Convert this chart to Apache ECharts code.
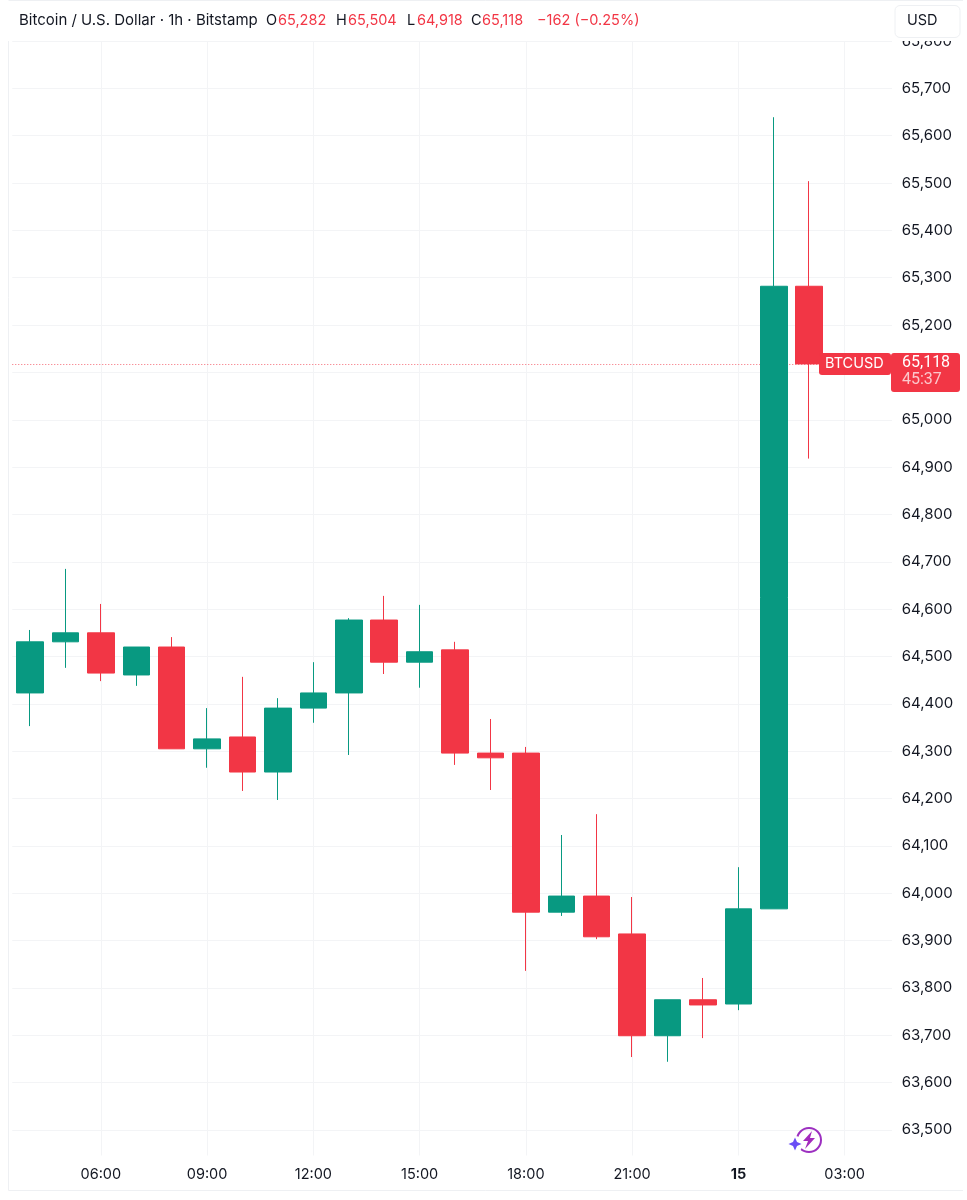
<!DOCTYPE html>
<html><head><meta charset="utf-8">
<style>html,body{margin:0;padding:0;background:#fff}#c{width:967px;height:1200px}</style>
<script src="https://cdn.jsdelivr.net/npm/echarts@6/dist/echarts.min.js"></script>
</head><body><div id="c"></div>
<script>
const categories=['04:00','05:00','06:00','07:00','08:00','09:00','10:00','11:00','12:00','13:00','14:00','15:00','16:00','17:00','18:00','19:00','20:00','21:00','22:00','23:00','15','01:00','02:00','03:00','04:00'];
const opens =[64423,64531,64550,64461,64520,64305,64330,64256,64391,64423,64577,64488,64514,64296,64296,63960,63994,63914,63699,63775,63766,63967,65282];
const closes=[64531,64550,64465,64520,64305,64326,64256,64391,64423,64577,64488,64510,64296,64286,63960,63994,63908,63699,63775,63764,63967,65282,65118];
const lows  =[64353,64476,64448,64438,64305,64265,64216,64197,64360,64292,64463,64434,64271,64218,63836,63952,63903,63654,63644,63694,63753,63967,64918];
const highs =[64556,64685,64611,64520,64541,64391,64457,64412,64488,64581,64628,64609,64531,64368,64309,64123,64167,63992,63775,63821,64055,65639,65504];
const lastClose=65118;
const lastTag='65,118', countdown='45:37', symbolTag='BTCUSD';
const headerSegments=[
 ['Bitcoin / U.S. Dollar · 1h · Bitstamp',19,0,15],['O',266,0,14.5],['65,282',278,1,14.5],['H',336,0,14.5],['65,504',348,1,14.5],
 ['L',407,0,14.5],['64,918',417,1,14.5],['C',471,0,14.5],['65,118',482,1,14.5],['−162 (−0.25%)',537,1,14.5]];

const RED='#f23645',GREEN='#089981',INK='#131722',GRID='#f3f4f6',FRAME='#eef0f3',FONT='Inter, "Noto Sans", sans-serif';
const STEP=35.42,LEFT=12.28;
const show=i=>i%3===2&&i<24;

const chart=echarts.init(document.getElementById('c'),null,{renderer:'canvas'});
chart.setOption({
 animation:false,backgroundColor:'#fff',
 grid:{left:LEFT,width:STEP*categories.length,top:41,height:1136.3,containLabel:false},
 xAxis:[
  {type:'category',data:categories,position:'bottom',z:0,axisLine:{show:false},axisTick:{show:false},axisLabel:{show:false},
   splitLine:{show:true,alignWithLabel:true,interval:(i)=>show(i),lineStyle:{color:GRID,width:1}}},
  {type:'category',data:categories,position:'bottom',z:20,axisLine:{show:false},axisTick:{show:false},splitLine:{show:false},
   axisLabel:{interval:(i)=>show(i),margin:-10,fontFamily:FONT,fontSize:14.5,color:INK,
    formatter:v=>v==='15'?'{b|15}':v,rich:{b:{fontFamily:FONT,fontSize:14.5,fontWeight:700,color:INK}}}}
 ],
 yAxis:{type:'value',position:'right',min:63400,max:65800,interval:100,scale:true,z:1,
  axisLine:{show:false},axisTick:{show:false},
  splitLine:{show:true,showMinLine:false,lineStyle:{color:GRID,width:1}},
  axisLabel:{showMinLabel:false,margin:4,fontFamily:FONT,fontSize:15,color:INK,align:'left',
   formatter:v=>v.toLocaleString('en-US')}},
 series:[{type:'candlestick',xAxisIndex:0,barWidth:27,z:3,
  data:opens.map((o,i)=>[o,closes[i],lows[i],highs[i]]),
  itemStyle:{color:GREEN,color0:RED,borderColor:GREEN,borderColor0:RED,borderWidth:1},
  markLine:{silent:true,z:1,symbol:'none',label:{show:false},
   lineStyle:{color:RED,type:[1,2],width:1,opacity:.75},data:[{yAxis:lastClose}]}}]
});
const py=chart.convertToPixel({yAxisIndex:0},lastClose);
const T=(text,x,y,fill,extra)=>({type:'text',z:110,x,y,style:Object.assign({text,fill,fontFamily:FONT,fontSize:14.5,verticalAlign:'middle'},extra||{})});
const R=(x,y,width,height,fill,z,r)=>({type:'rect',z,shape:{x,y,width,height,r:r||0},style:{fill}});
chart.setOption({graphic:{elements:[
 R(0,0,967,41,'#fff',100),
 R(0,1155.5,967,45,'#fff',10),
 R(892,41,6.5,1115,'#fff',10),
 R(0,0,8,1200,'#fff',10),
 {type:'line',z:11,shape:{x1:8.5,y1:0,x2:8.5,y2:1190.5},style:{stroke:FRAME,lineWidth:1}},
 {type:'line',z:11,shape:{x1:8.5,y1:1190.5,x2:963,y2:1190.5},style:{stroke:FRAME,lineWidth:1}},
 {type:'line',z:101,shape:{x1:8.5,y1:0.5,x2:963,y2:0.5},style:{stroke:FRAME,lineWidth:1}},
 {type:'rect',z:105,shape:{x:895,y:5.5,width:65,height:32,r:5},style:{fill:'#fff',stroke:'#eef0f3',lineWidth:1}},
 T('USD',907,21,INK),
 ...headerSegments.map(s=>T(s[0],s[1],20.5,s[2]?RED:INK,{fontSize:s[3]})),
 R(819,py-11,72,22,RED,30,3),
 R(891,py-11,69,39,RED,30,3),
 T(symbolTag,825,py,'#fff',{fontSize:14.5}),
 T(lastTag,902,py-1,'#fff',{fontFamily:'Roboto',fontSize:16}),
 T(countdown,902,py+16,'rgba(255,255,255,.72)',{fontFamily:'Roboto',fontSize:16}),
 {type:'circle',z:30,shape:{cx:809,cy:1140,r:12},style:{fill:'none',stroke:'#9c2fc0',lineWidth:2}},
 {type:'polygon',z:31,shape:{points:[[812,1131],[803,1141],[808,1141],[805,1149],[815,1138],[810,1138]]},style:{fill:'#a32bbd'}},
 {type:'circle',z:31,shape:{cx:795,cy:1144,r:8},style:{fill:'#fff'}},
 {type:'polygon',z:32,shape:{points:[[795,1137.5],[797,1142],[801.5,1144],[797,1146],[795,1150.5],[793,1146],[788.5,1144],[793,1142]]},style:{fill:'#6a4df5'}}
]}});
</script></body></html>
